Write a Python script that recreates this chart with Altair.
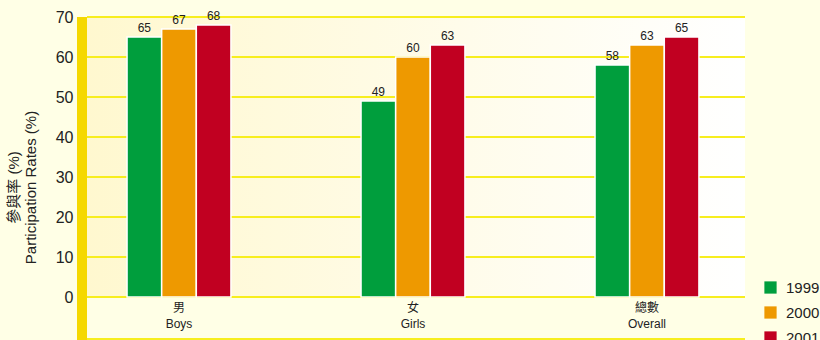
import altair as alt
import pandas as pd

cat_zh = ["男", "女", "總數"]
cat_en = ["Boys", "Girls", "Overall"]
years = ["1999", "2000", "2001"]
v1999 = [65, 49, 58]
v2000 = [67, 60, 63]
v2001 = [68, 63, 65]
grid_ticks = [0, 10, 20, 30, 40, 50, 60, 70]
colors = ["#009E3D", "#EE9900", "#C10021"]

rows = []
for i, (zh, en) in enumerate(zip(cat_zh, cat_en)):
    for y, vals in zip(years, [v1999, v2000, v2001]):
        rows.append({"cat": zh + "|" + en, "year": y, "value": vals[i]})
df = pd.DataFrame(rows)
order = [zh + "|" + en for zh, en in zip(cat_zh, cat_en)]

W, H = 658, 280
FONT = "Arial, 'Liberation Sans', 'Noto Sans CJK TC', sans-serif"
GRID = "#F7EE1E"
one = pd.DataFrame({"a": [0]})
grid_df = pd.DataFrame({"value": grid_ticks})

bg = alt.Chart(one).mark_rect(
    fill=alt.LinearGradient(
        gradient="linear",
        stops=[alt.GradientStop(offset=0, color="#FFF8CF"),
               alt.GradientStop(offset=1, color="#FFFFFF")],
        x1=0, x2=1, y1=0, y2=0,
    )
).encode(x=alt.value(0), x2=alt.value(W), y=alt.value(0), y2=alt.value(H))

band = alt.Chart(one).mark_rect(color="#F5D800").encode(
    x=alt.value(-10), x2=alt.value(0), y=alt.value(0), y2=alt.value(H + 50)
)

bottom = alt.Chart(one).mark_rule(color=GRID, strokeWidth=2).encode(
    x=alt.value(0), x2=alt.value(W), y=alt.value(H + 42)
)

yscale = alt.Scale(domain=[0, 70], nice=False)
yaxis = alt.Axis(values=grid_ticks, domain=False, ticks=False, grid=False,
                 labelOverlap=False,
                 labelFontSize=16, labelColor="#222222", labelPadding=14,
                 labelFont=FONT,
                 title=["參與率 (%)", "Participation Rates (%)"],
                 titleFontSize=15, titleFontWeight="normal", titleColor="#222222",
                 titleFont=FONT, titleX=-74, titleY=170, titleAngle=270,
                 titleAlign="center", titleBaseline="middle", titleLineHeight=17)

grid = alt.Chart(grid_df).mark_rule(color=GRID, strokeWidth=2).encode(
    y=alt.Y("value:Q", scale=yscale, axis=yaxis),
    x=alt.value(0), x2=alt.value(W),
)

xenc = alt.X(
    "cat:N", sort=order, title=None,
    scale=alt.Scale(paddingInner=0.556, paddingOuter=0.184, align=0.465),
    axis=alt.Axis(labelAngle=0, domain=False, ticks=False, labelFontSize=12,
                  labelColor="#222222", labelPadding=5, labelLineHeight=16,
                  labelExpr="split(datum.label, '|')", labelFont=FONT),
)

bars = alt.Chart(df).mark_bar(stroke="white", strokeWidth=1.5).encode(
    x=xenc,
    xOffset=alt.XOffset("year:N", scale=alt.Scale(paddingInner=0, paddingOuter=0)),
    y=alt.Y("value:Q", scale=yscale, axis=yaxis),
    color=alt.Color("year:N", scale=alt.Scale(domain=years, range=colors),
                    legend=alt.Legend(title=None, orient="none", legendX=676, legendY=263,
                                      symbolType="square", symbolSize=150,
                                      symbolStrokeWidth=0, labelFontSize=15,
                                      labelColor="#222222", labelFont=FONT,
                                      rowPadding=9, labelOffset=8)),
)

labels = alt.Chart(df).mark_text(dy=-9, fontSize=12, color="#222222", font=FONT).encode(
    x=alt.X("cat:N", sort=order),
    xOffset=alt.XOffset("year:N"),
    y=alt.Y("value:Q", scale=yscale, axis=yaxis),
    text="value:Q",
)

chart = alt.layer(bg, band, bottom, grid, bars, labels).properties(
    width=W, height=H,
    autosize=alt.AutoSizeParams(type="none"),
    padding={"left": 87, "top": 17, "right": 75, "bottom": 43},
).configure(background="#FFFFE6").configure_view(stroke=None)

chart.save("out.html", embed_options={"renderer": "svg", "actions": False})
